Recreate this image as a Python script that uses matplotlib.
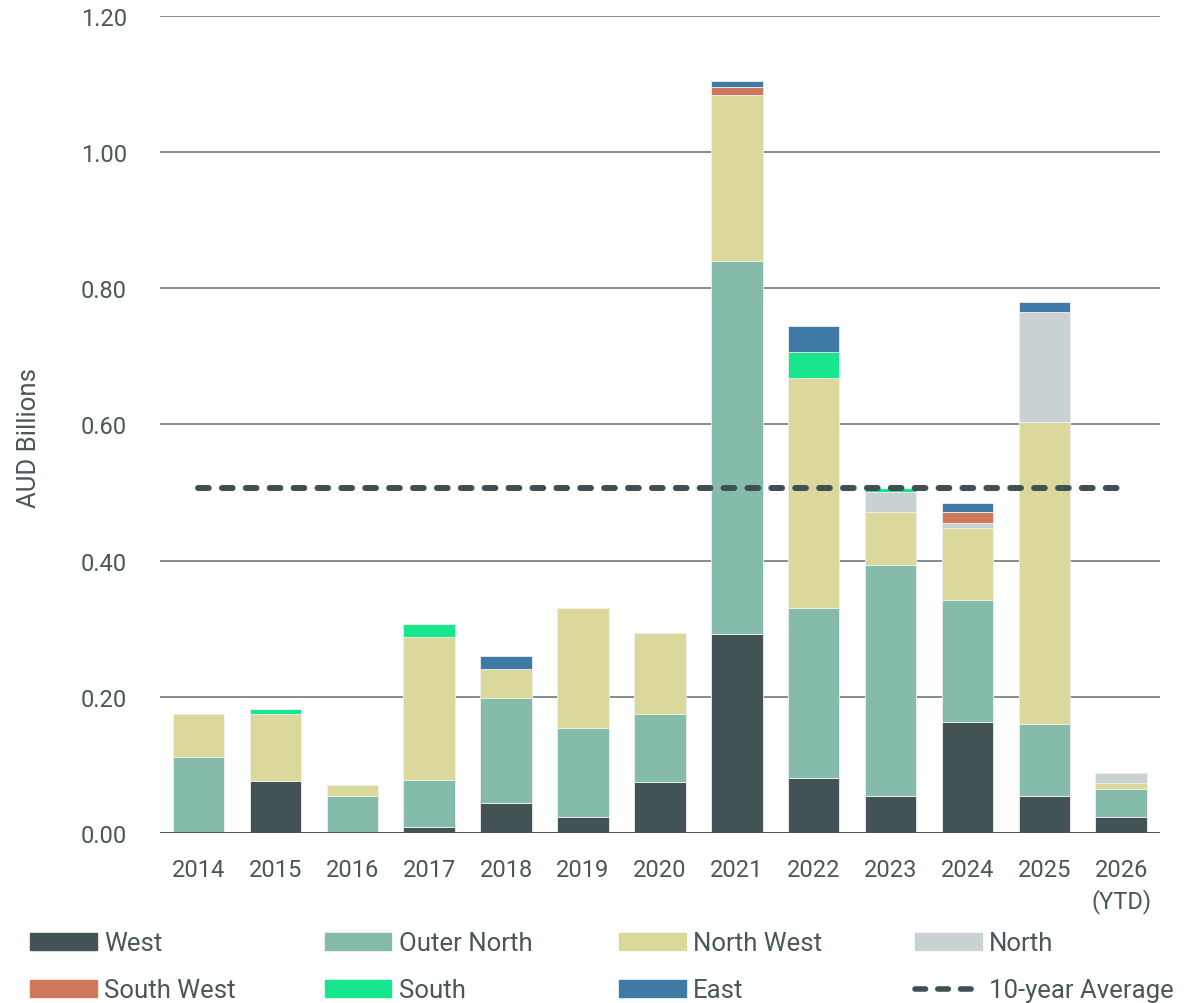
import numpy as np
import matplotlib
matplotlib.use("Agg")
from matplotlib import pyplot as plt
from matplotlib.patches import Patch
from matplotlib.lines import Line2D

years = ["2014", "2015", "2016", "2017", "2018", "2019", "2020",
         "2021", "2022", "2023", "2024", "2025", "2026\n(YTD)"]

# AUD billions per region
west        = [0.000, 0.077, 0.000, 0.009, 0.044, 0.024, 0.075, 0.292, 0.081, 0.054, 0.163, 0.054, 0.023]
outer_north = [0.112, 0.000, 0.055, 0.069, 0.154, 0.130, 0.100, 0.548, 0.249, 0.340, 0.179, 0.106, 0.042]
north_west  = [0.063, 0.098, 0.015, 0.210, 0.043, 0.176, 0.119, 0.244, 0.338, 0.077, 0.106, 0.444, 0.008]
north       = [0.000, 0.000, 0.000, 0.000, 0.000, 0.000, 0.000, 0.000, 0.000, 0.030, 0.007, 0.161, 0.015]
south_west  = [0.000, 0.000, 0.000, 0.000, 0.000, 0.000, 0.000, 0.012, 0.000, 0.000, 0.016, 0.000, 0.000]
south       = [0.000, 0.007, 0.000, 0.019, 0.000, 0.000, 0.000, 0.000, 0.038, 0.006, 0.000, 0.000, 0.000]
east        = [0.000, 0.000, 0.000, 0.000, 0.019, 0.000, 0.000, 0.009, 0.039, 0.000, 0.014, 0.015, 0.000]
avg_10yr = 0.507

series = [("West", west, "#435255"),
          ("Outer North", outer_north, "#84bbab"),
          ("North West", north_west, "#dbd89b"),
          ("North", north, "#c9d1d3"),
          ("South West", south_west, "#d1785a"),
          ("South", south, "#17e68f"),
          ("East", east, "#3f7aa6")]

txt = "#4a5658"
plt.rcParams['font.family'] = ['Roboto', 'DejaVu Sans']

fig = plt.figure(figsize=(11.98, 10.04), dpi=100)
ax = fig.add_axes([0.1336, 0.1693, 0.8344, 0.8138])

x = np.arange(len(years))
bottom = np.zeros(len(years))
for name, vals, col in series:
    vals = np.array(vals)
    ax.bar(x, vals, 0.67, bottom=bottom, color=col, edgecolor="#eef0ee",
           linewidth=0.6, zorder=3)
    bottom += vals

ax.plot([x[0], x[-1]], [avg_10yr, avg_10yr], color="#414f52", lw=4.3,
        linestyle=(0, (1.8, 2.2)), dash_capstyle="round", zorder=4)

ax.set_xlim(-0.5, 12.5)
ax.set_ylim(0, 1.2)
ax.set_yticks(np.arange(0, 1.21, 0.2))
ax.yaxis.set_major_formatter(matplotlib.ticker.FormatStrFormatter("%.2f"))
ax.set_xticks(x)
ax.set_xticklabels(years, linespacing=1.35)
ax.grid(axis="y", color="#6f7a7c", lw=1.2, zorder=0)
ax.axhline(0, color="#435255", lw=2, zorder=5)
for s in ax.spines.values():
    s.set_visible(False)
ax.tick_params(length=0, labelsize=17, colors=txt)
ax.tick_params(axis="x", pad=18)
ax.tick_params(axis="y", pad=24)
ax.set_ylabel("AUD Billions", fontsize=18.5, color=txt)
ax.yaxis.set_label_coords(-0.119, 0.485)

handles = [Patch(color=c, label=n) for n, _, c in series]
handles.append(Line2D([0], [0], color="#414f52", lw=4.0, linestyle=(0, (1.9, 2.2)),
                      dash_capstyle="round", label="10-year Average"))

# one small legend per column so the columns sit at even spacing
col_x = [0.025, 0.271, 0.517, 0.764]
for i, cx in enumerate(col_x):
    hs = [handles[i], handles[i + 4]]
    leg = fig.legend(hs, [h.get_label() for h in hs], loc="center left",
                     bbox_to_anchor=(cx, 0.036), frameon=False, fontsize=18.5,
                     handlelength=2.6, handleheight=0.65, handletextpad=0.28,
                     labelspacing=0.9, borderaxespad=0, borderpad=0)
    for t in leg.get_texts():
        t.set_color(txt)

fig.savefig("out.png", dpi=100)
